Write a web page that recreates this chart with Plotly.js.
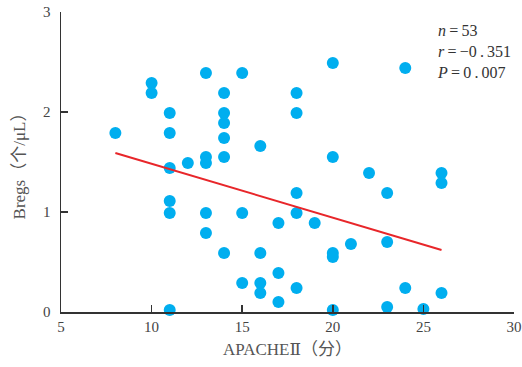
<!DOCTYPE html>
<html>
<head>
<meta charset="utf-8">
<script src="https://cdn.plot.ly/plotly-3.0.1.min.js"></script>
<style>html,body{margin:0;padding:0;background:#fff;}#chart{width:522px;height:367px;}</style>
</head>
<body>
<div id="chart"></div>
<script>
// APACHE II score (x) and Bregs count (y)
const apache = [8,10,10,11,11,11,11,11,11,12,13,13,13,13,13,14,14,14,14,14,14,15,15,15,16,16,16,16,17,17,17,18,18,18,18,18,19,20,20,20,20,20,21,22,23,23,23,24,24,25,26,26,26];
const bregs  = [1.79,2.29,2.19,1.99,1.79,1.44,1.11,0.99,0.02,1.49,2.39,1.55,1.49,0.99,0.79,2.19,1.99,1.89,1.74,1.55,0.59,2.39,0.99,0.29,1.66,0.59,0.29,0.19,0.89,0.39,0.10,2.19,1.99,1.19,0.99,0.24,0.89,2.49,1.55,0.59,0.55,0.02,0.68,1.39,1.19,0.70,0.05,2.44,0.24,0.03,1.39,1.29,0.19];
// regression line endpoints
const fitX = [8, 26];
const fitY = [1.59, 0.62];
const xTicks = [5,10,15,20,25,30];
const yTicks = [0,1,2,3];
const statN = "53", statR = "−0\u2009.\u2009351", statP = "0\u2009.\u2009007";

const serif = "'Liberation Serif', 'DejaVu Serif', 'Noto Sans CJK SC', serif";
const eq = '\u2009=\u2009';
const data = [
  {x: apache, y: bregs, type: 'scatter', mode: 'markers',
   marker: {size: 12, color: '#00AEEF'}, cliponaxis: false, hoverinfo: 'skip'},
  {x: fitX, y: fitY, type: 'scatter', mode: 'lines',
   line: {color: '#E8262A', width: 2}, hoverinfo: 'skip'}
];
const layout = {
  width: 522, height: 367,
  margin: {l: 61, r: 8, t: 12, b: 55},
  showlegend: false,
  paper_bgcolor: '#fff', plot_bgcolor: '#fff',
  font: {family: serif, color: '#333', size: 15},
  xaxis: {
    range: [5, 30], tickvals: xTicks, ticktext: xTicks.map(String),
    showgrid: false, zeroline: false, showline: true, linecolor: '#333', linewidth: 1.5,
    ticks: 'inside', ticklen: 7, tickcolor: '#333', tickwidth: 1.5,
    tickfont: {family: serif, size: 15, color: '#444'},
    title: {text: 'APACHEⅡ（分）', font: {family: serif, size: 17, color: '#555'}, standoff: 9}
  },
  yaxis: {
    range: [0, 3], tickvals: yTicks, ticktext: yTicks.map(String),
    showgrid: false, zeroline: false, showline: true, linecolor: '#333', linewidth: 1.5,
    ticks: 'inside', ticklen: 7, tickcolor: '#333', tickwidth: 1.5,
    tickfont: {family: serif, size: 15, color: '#444'},
    ticklabelstandoff: 6,
    title: {text: 'Bregs（个/μL）', font: {family: serif, size: 17, color: '#555'}, standoff: 13}
  },
  annotations: [{
    xref: 'paper', yref: 'paper', x: 0.826, y: 0.972, xanchor: 'left', yanchor: 'top',
    align: 'left', showarrow: false,
    text: '<i>n</i>' + eq + statN + '<br><i>r</i>' + eq + statR + '<br><i>P</i>' + eq + statP,
    font: {family: serif, size: 16, color: '#333'}
  }]
};
Plotly.newPlot('chart', data, layout, {displayModeBar: false, staticPlot: true});
</script>
</body>
</html>
